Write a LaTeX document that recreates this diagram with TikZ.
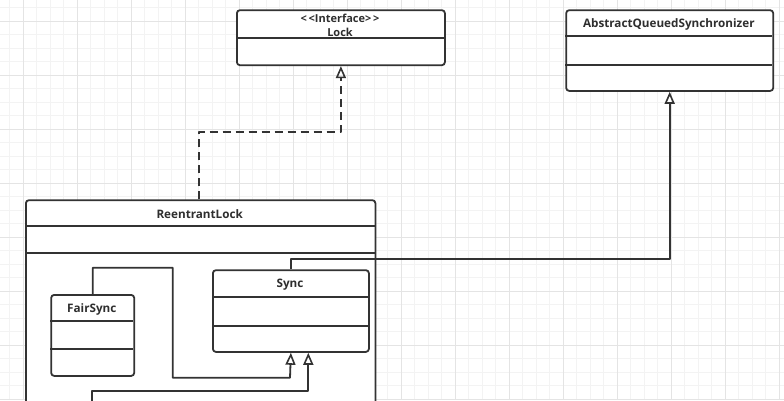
\documentclass[tikz,border=0pt]{standalone}
\usepackage{fontspec}
\setmainfont{Open Sans}
\usetikzlibrary{arrows.meta}
\definecolor{linec}{HTML}{333333}
\definecolor{textc}{HTML}{2E2E2E}
\definecolor{gridminor}{HTML}{F3F3F3}
\definecolor{gridmajor}{HTML}{E4E4E4}
\begin{document}
\begin{tikzpicture}[x=1pt,y=-1pt,line join=round,
  box/.style={draw=linec,line width=1.8pt,rounded corners=3pt,fill=white,inner sep=0pt,anchor=north west},
  divline/.style={draw=linec,line width=1.8pt},
  lbl/.style={font=\bfseries\fontsize{11.7}{13}\selectfont,text=textc,inner sep=0pt,align=center,yshift=-1.5pt},
  conn/.style={draw=linec,line width=1.8pt},
  inh/.style={-{Triangle[open,length=12pt,width=10pt,line width=1.6pt]}},
  dashconn/.style={dash pattern=on 8pt off 5pt}
]
\useasboundingbox (0,0) rectangle (784,400);
\clip (0,0) rectangle (784,400);
\fill[white] (0,0) rectangle (784,400);
% grid
\foreach \i in {0,...,58} {
  \draw[gridminor,line width=0.8pt] ({9.8+13.5*\i},0) -- ({9.8+13.5*\i},400);
}
\foreach \i in {0,...,30} {
  \draw[gridminor,line width=0.8pt] (0,{7.5+13.5*\i}) -- (784,{7.5+13.5*\i});
}
\foreach \i in {0,...,14} {
  \draw[gridmajor,line width=0.9pt] ({23.3+54*\i},0) -- ({23.3+54*\i},400);
}
\foreach \i in {0,...,7} {
  \draw[gridmajor,line width=0.9pt] (0,{21+54*\i}) -- (784,{21+54*\i});
}

% Lock
\node[box,minimum width=208pt,minimum height=55pt] (lock) at (236,9.3) {};
\draw[divline] (236,38.3) -- (444,38.3);
\node[lbl,font=\bfseries\fontsize{11}{14}\selectfont,yshift=0.5pt] (locktxt) at (340,24.2) {{<}\,{<}Interface{>}\,{>}\\Lock};

% AQS
\node[box,minimum width=207pt,minimum height=80.7pt] (aqs) at (565.3,9.3) {};
\draw[divline] (565.3,36) -- (772.3,36);
\draw[divline] (565.3,65.3) -- (772.3,65.3);
\node[lbl] (aqstxt) at (668.8,22.6) {AbstractQueuedSynchronizer};

% ReentrantLock
\node[box,minimum width=349.5pt,minimum height=240pt] (rl) at (25,199.3) {};
\draw[divline] (25,226) -- (374.5,226);
\draw[divline] (25,253) -- (374.5,253);
\node[lbl] (rltxt) at (199.7,212.6) {ReentrantLock};

% Sync
\node[box,minimum width=156pt,minimum height=81.7pt] (sync) at (212,269.3) {};
\draw[divline] (212,296.7) -- (368,296.7);
\draw[divline] (212,325.7) -- (368,325.7);
\node[lbl] (synctxt) at (290,283) {Sync};

% FairSync
\node[box,minimum width=83pt,minimum height=81pt] (fair) at (50.3,294) {};
\draw[divline] (50.3,321) -- (133.3,321);
\draw[divline] (50.3,348.7) -- (133.3,348.7);
\node[lbl] (fairtxt) at (91.8,307.5) {FairSync};

% connectors
\coordinate (dx) at (199.3,0);
\draw[conn,dashconn,inh] (rl.north -| dx) -- ++(0,-67.6) -| (lock.south);
\draw[conn,inh] (sync.north) -- ++(0,-10) -| (aqs.south);
\coordinate (f1) at (172.7,267.7);
\coordinate (f2) at (290,377.7);
\draw[conn,inh] (fair.north) |- (f1) |- (f2) -- (sync.south);
\coordinate (n0) at (91.7,420);
\coordinate (n1) at (308.3,391);
\draw[conn,inh] (n0) |- (n1) -- (sync.south -| n1);
\end{tikzpicture}
\end{document}
